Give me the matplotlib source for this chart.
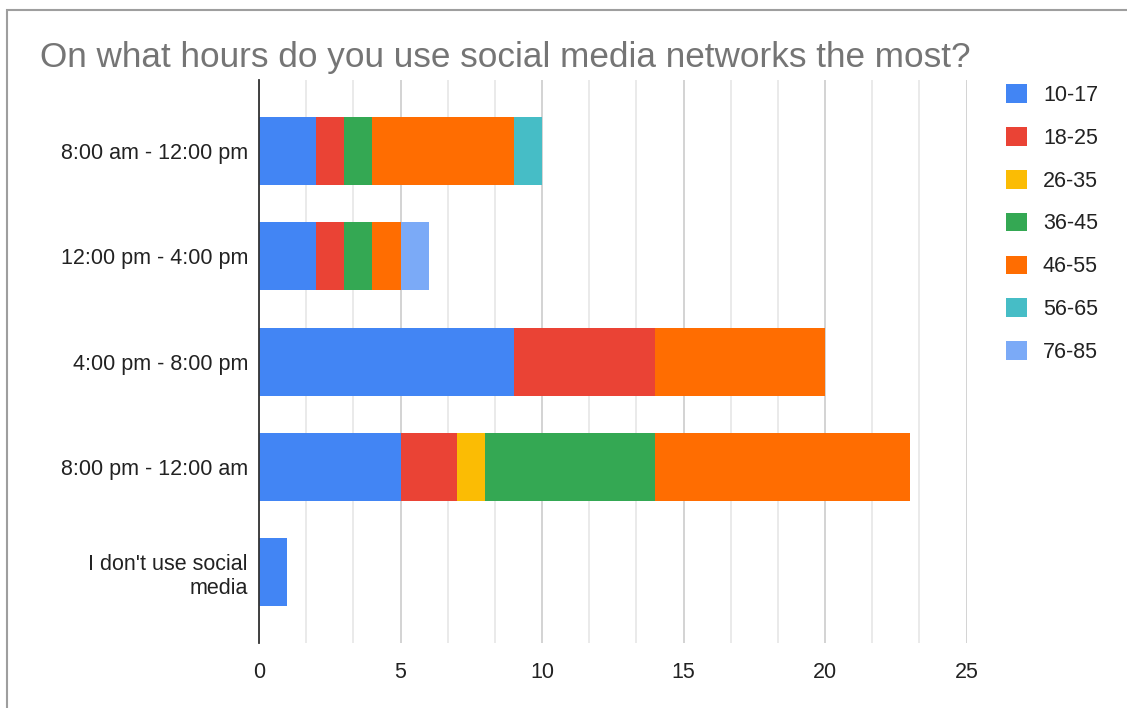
import numpy as np
import matplotlib.pyplot as plt
from matplotlib.patches import Rectangle
from matplotlib.ticker import MultipleLocator

plt.rcParams['font.family'] = ['Liberation Sans', 'DejaVu Sans']

hours = ["8:00 am - 12:00 pm", "12:00 pm - 4:00 pm", "4:00 pm - 8:00 pm",
         "8:00 pm - 12:00 am", "I don't use social\nmedia"]
ages = ["10-17", "18-25", "26-35", "36-45", "46-55", "56-65", "76-85"]
colors = ["#4285F4", "#EA4335", "#FBBC04", "#34A853", "#FF6D01", "#46BDC6", "#7BAAF7"]

# counts per age group, one value per hour slot
a10_17 = [2, 2, 9, 5, 1]
a18_25 = [1, 1, 5, 2, 0]
a26_35 = [0, 0, 0, 1, 0]
a36_45 = [1, 1, 0, 6, 0]
a46_55 = [5, 1, 6, 9, 0]
a56_65 = [1, 0, 0, 0, 0]
a76_85 = [0, 1, 0, 0, 0]
series = [a10_17, a18_25, a26_35, a36_45, a46_55, a56_65, a76_85]

fig = plt.figure(figsize=(11.27, 7.08), dpi=100)
ax = fig.add_axes([259 / 1127, 0.0918, 707.5 / 1127, 0.7952])

y = np.arange(len(hours))
left = np.zeros(len(hours))
for name, vals, c in zip(ages, series, colors):
    vals = np.array(vals, dtype=float)
    ax.barh(y, vals, left=left, height=0.645, color=c, label=name, zorder=3)
    left += vals

ax.set_ylim(len(hours) - 1 + 0.67, -0.67)
ax.set_yticks(y)
ax.set_yticklabels(hours, fontsize=15.5, color="#222222")
ax.set_xlim(0, 25)
ax.xaxis.set_major_locator(MultipleLocator(5))
ax.xaxis.set_minor_locator(MultipleLocator(5 / 3))
ax.tick_params(axis="x", which="both", length=0, labelsize=15.5, labelcolor="#222222", pad=14)
ax.tick_params(axis="y", length=0, pad=8)
ax.grid(axis="x", which="major", color="#cccccc", linewidth=1.2, zorder=0)
ax.grid(axis="x", which="minor", color="#e6e6e6", linewidth=1.2, zorder=0)
for s in ["top", "right", "bottom"]:
    ax.spines[s].set_visible(False)
ax.spines["left"].set_color("#333333")
ax.spines["left"].set_linewidth(1.3)
ax.spines["left"].set_zorder(4)

fig.text(40 / 1127, 1 - 57 / 708, "On what hours do you use social media networks the most?",
         fontsize=25.3, color="#757575", va="center", ha="left")

leg = fig.legend(loc="upper left", bbox_to_anchor=(987 / 1127, 1 - 65 / 708),
                 frameon=False, fontsize=15.5, labelspacing=0.98, handlelength=0.95,
                 handleheight=0.95, handletextpad=0.75)
for t in leg.get_texts():
    t.set_color("#222222")

fig.patches.append(Rectangle((7 / 1127, -0.1), 1.2, 1 - 10 / 708 + 0.1,
                             transform=fig.transFigure, fill=False,
                             edgecolor="#9e9e9e", linewidth=1.5))

fig.savefig("out.png", dpi=100)
